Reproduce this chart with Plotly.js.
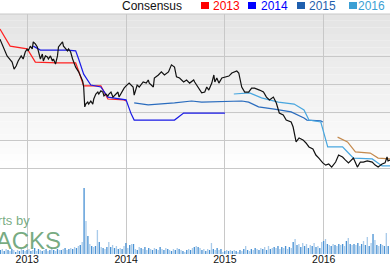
<!DOCTYPE html>
<html>
<head>
<meta charset="utf-8">
<script src="https://cdn.plot.ly/plotly-3.0.1.min.js"></script>
<style>html,body{margin:0;padding:0;background:#fff;}#chart{width:390px;height:264px;}</style>
</head>
<body>
<div id="chart"></div>
<script>
// Price (decimal year, price)
const priceT = [2012.724,2012.755,2012.796,2012.806,2012.847,2012.867,2012.888,2012.908,2012.939,2012.959,2012.980,2013.000,2013.010,2013.031,2013.051,2013.061,2013.082,2013.102,2013.112,2013.133,2013.153,2013.163,2013.184,2013.204,2013.214,2013.235,2013.255,2013.265,2013.286,2013.306,2013.316,2013.337,2013.357,2013.367,2013.388,2013.408,2013.418,2013.439,2013.459,2013.469,2013.490,2013.520,2013.561,2013.571,2013.582,2013.592,2013.612,2013.622,2013.643,2013.663,2013.673,2013.694,2013.714,2013.724,2013.745,2013.765,2013.776,2013.796,2013.816,2013.827,2013.847,2013.867,2013.878,2013.898,2013.918,2013.929,2013.949,2013.969,2013.980,2014.000,2014.031,2014.071,2014.082,2014.112,2014.133,2014.173,2014.204,2014.224,2014.235,2014.276,2014.286,2014.327,2014.357,2014.388,2014.429,2014.459,2014.490,2014.510,2014.541,2014.582,2014.612,2014.643,2014.684,2014.694,2014.735,2014.765,2014.796,2014.816,2014.837,2014.867,2014.888,2014.898,2014.918,2014.939,2014.969,2015.000,2015.04,2015.07,2015.12,2015.14,2015.17,2015.20,2015.24,2015.27,2015.30,2015.35,2015.39,2015.42,2015.45,2015.49,2015.52,2015.55,2015.59,2015.62,2015.65,2015.67,2015.69,2015.72,2015.75,2015.79,2015.82,2015.85,2015.89,2015.92,2015.95,2015.99,2016.02,2016.05,2016.08,2016.12,2016.15,2016.19,2016.22,2016.25,2016.30,2016.34,2016.37,2016.40,2016.44,2016.49,2016.52,2016.55,2016.59,2016.62,2016.64,2016.65,2016.67];
const priceV = [56.1,53.3,50.1,49.7,47.9,45.4,46.5,48.3,50.1,49.0,51.5,52.6,51.9,53.6,52.6,55.1,54.4,53.3,51.9,49.0,50.8,48.3,50.1,49.7,49.0,50.1,48.3,49.0,47.2,50.1,53.3,54.4,55.1,53.6,52.6,51.9,52.6,51.5,49.0,47.9,46.1,44.4,41.1,39.0,31.9,32.9,33.6,32.9,34.0,32.9,34.7,36.5,37.2,36.5,37.6,37.2,35.8,36.5,35.8,36.5,37.2,35.4,35.8,36.5,37.2,35.4,36.9,38.3,38.6,39.4,40.4,39.0,36.1,39.7,39.0,40.8,40.4,41.5,40.4,39.0,42.2,43.3,44.4,43.3,44.4,46.9,46.1,42.6,42.2,40.8,41.5,40.4,41.5,40.8,38.6,36.9,37.2,39.0,37.9,40.4,43.3,40.8,42.2,40.4,42.2,42.6,42.9,44.0,44.7,44.0,39.0,37.2,37.2,38.6,38.6,37.9,37.2,35.4,34.4,35.4,33.3,29.7,29.0,27.2,26.9,26.5,24.7,19.4,20.8,20.1,19.0,17.6,16.9,14.7,13.6,11.9,11.1,11.5,10.4,12.2,14.7,14.0,12.9,11.9,13.6,10.4,12.2,12.2,12.6,12.2,11.1,10.4,11.5,11.9,14.0,12.6,12.9];

// Consensus estimates
const c2013T = [2012.724,2012.827,2013.000,2013.082,2013.306,2013.490,2013.520,2013.571,2013.643,2013.745,2013.816,2013.980,2014.000];
const c2013V = [59.7,53.6,52.6,47.9,47.6,47.6,44.7,39.4,39.4,39.4,34.7,34.4,34.0];
const c2014T = [2013.061,2013.133,2013.408,2013.490,2013.520,2013.571,2013.643,2013.745,2013.816,2013.980,2014.000,2014.051,2014.082,2014.490,2014.582,2015.000];
const c2014V = [53.6,52.2,52.2,51.9,49.0,43.6,39.7,39.0,35.4,34.7,34.4,29.4,27.2,27.2,29.7,29.7];
const c2015T = [2014.082,2014.224,2014.490,2014.663,2014.765,2015.17,2015.24,2015.34,2015.50,2015.67,2015.80,2015.83,2015.97,2015.99];
const c2015V = [33.3,32.6,33.3,34.0,33.6,34.0,33.6,31.9,31.1,30.1,27.9,27.2,26.9,26.5];
const c2016T = [2015.09,2015.25,2015.37,2015.54,2015.70,2015.80,2015.85,2015.97,2016.04,2016.19,2016.24,2016.30,2016.49,2016.59,2016.67];
const c2016V = [36.5,36.9,35.1,33.6,32.9,30.8,27.2,26.5,17.6,17.6,15.8,13.6,13.3,10.8,10.8];
const c2017T = [2016.14,2016.24,2016.32,2016.47,2016.55,2016.67];
const c2017V = [21.1,19.4,15.8,15.4,13.6,13.3];

// Weekly volume (relative units)
const volStart = 2012.729;
const volume = [4,5,3,5,4,3,5,4,2,4,3,5,4,3,
4,5,3,4,6,3,5,4,3,4,5,3,4,6,4,3,5,4,
4,5,6,4,5,6,5,7,6,8,9,
12,66,33,18,10,8,7,8,24,12,7,6,5,7,12,7,9,6,8,5,6,5,8,11,6,9,10,10,5,4,7,6,5,7,4,6,5,4,6,5,
4,7,5,4,6,5,4,3,5,4,6,5,4,3,2,4,5,4,6,7,8,7,6,4,5,3,5,4,11,5,4,6,4,5,
2,3,4,3,4,3,4,3,2,4,3,5,8,4,3,5,4,6,5,4,6,5,7,4,8,5,6,7,6,8,5,7,6,8,
5,7,6,12,15,9,10,7,11,8,10,6,9,8,11,7,8,6,12,13,15,10,9,8,10,9,8,10,
9,10,8,13,16,10,9,10,9,11,8,10,13,9,17,8,11,20,14,9,8,10,9,8,21,8];

const years = [2013,2014,2015,2016];
const legendLabels = ["2013","2014","2015","2016"];
const legendColors = ["#ff0000","#0000ff","#1f5fae","#3c9fd4"];

const volX = volume.map((_, i) => volStart + i / 52);
const volColors = volume.map((_, i) => (i % 2 === 0 ? "#4a92d4" : "#a9cbea"));

const FONT = "Liberation Sans, Arial, sans-serif";
const traces = [
  {x: volX, y: volume, type: "bar", yaxis: "y2", marker: {color: volColors, line: {width: 0}}, hoverinfo: "skip"},
  {x: c2013T, y: c2013V, mode: "lines", line: {color: "#ff2020", width: 1.2}},
  {x: c2014T, y: c2014V, mode: "lines", line: {color: "#1a1ae6", width: 1.2}},
  {x: c2015T, y: c2015V, mode: "lines", line: {color: "#2a6cbe", width: 1.2}},
  {x: c2016T, y: c2016V, mode: "lines", line: {color: "#48a6df", width: 1.2}},
  {x: c2017T, y: c2017V, mode: "lines", line: {color: "#c48a4e", width: 1.2}},
  {x: priceT, y: priceV, mode: "lines", line: {color: "#111111", width: 1.2}}
];

// background gradient bands
const shapes = [];
const nb = 24;
const gTop = 1.0, gBot = 0.33;
for (let i = 0; i < nb; i++) {
  const f = i / (nb - 1);
  const g = Math.round(228 + (255 - 228) * f);
  shapes.push({type: "rect", xref: "paper", yref: "paper", layer: "below",
    x0: 0, x1: 1, y1: gTop - (gTop - gBot) * i / nb, y0: gTop - (gTop - gBot) * (i + 1) / nb,
    fillcolor: `rgb(${g},${g},${g})`, line: {width: 0}});
}
shapes.push({type: "line", xref: "paper", yref: "paper", x0: 0, x1: 1, y0: 1, y1: 1, line: {color: "#c8c8c8", width: 1}});

const annotations = [
  {text: "Consensus", xref: "paper", yref: "paper", x: 121/390, y: (254-5.5)/240, xanchor: "left", yanchor: "middle", showarrow: false, borderpad: 0, font: {size: 12, color: "#111", family: FONT}}
];
const sqX = [201, 248, 297, 349];
const txX = [212, 260, 308, 357];
for (let i = 0; i < legendLabels.length; i++) {
  shapes.push({type: "rect", xref: "paper", yref: "paper", x0: sqX[i]/390, x1: (sqX[i]+8)/390,
    y0: (254-9)/240, y1: (254-2)/240, fillcolor: legendColors[i], line: {width: 0}});
  annotations.push({text: legendLabels[i], xref: "paper", yref: "paper", x: txX[i]/390, y: (254-5.5)/240,
    xanchor: "left", yanchor: "middle", showarrow: false, borderpad: 0,
    font: {size: 12, color: legendColors[i], family: FONT}});
}
// watermark
annotations.push({text: "Charts by", xref: "paper", yref: "paper", x: 31/390, y: (254-220)/240, xanchor: "right", yanchor: "middle", showarrow: false, borderpad: 0,
  font: {size: 13, color: "rgba(96,156,108,0.85)", family: FONT}});
annotations.push({text: "ZACKS", xref: "paper", yref: "paper", x: 62/390, y: (254-240)/240, xanchor: "right", yanchor: "middle", showarrow: false, borderpad: 0,
  font: {size: 24, color: "rgba(96,156,108,0.85)", family: FONT}});

const layout = {
  width: 390, height: 264,
  margin: {l: 0, r: 0, t: 14, b: 10, pad: 0},
  paper_bgcolor: "#ffffff", plot_bgcolor: "#ffffff",
  showlegend: false,
  bargap: 0.3,
  xaxis: {range: [2012.7245, 2016.67], tickvals: years, ticktext: years.map(String), showgrid: true, gridcolor: "#c8c8c8", gridwidth: 1,
    zeroline: false, showline: false, ticks: "", ticklabelstandoff: -3, tickfont: {size: 10.5, color: "#111", family: FONT}, automargin: false, fixedrange: true},
  yaxis: {range: [-20.64, 65.07], tickvals: [10,20,30,40,50], showticklabels: false, showgrid: true, gridcolor: "#c8c8c8", gridwidth: 1, zeroline: false, ticks: "", automargin: false},
  yaxis2: {range: [0, 240], overlaying: "y", visible: false, showgrid: false},
  shapes: shapes,
  annotations: annotations
};

Plotly.newPlot("chart", traces, layout, {staticPlot: true, displayModeBar: false});
</script>
</body>
</html>
